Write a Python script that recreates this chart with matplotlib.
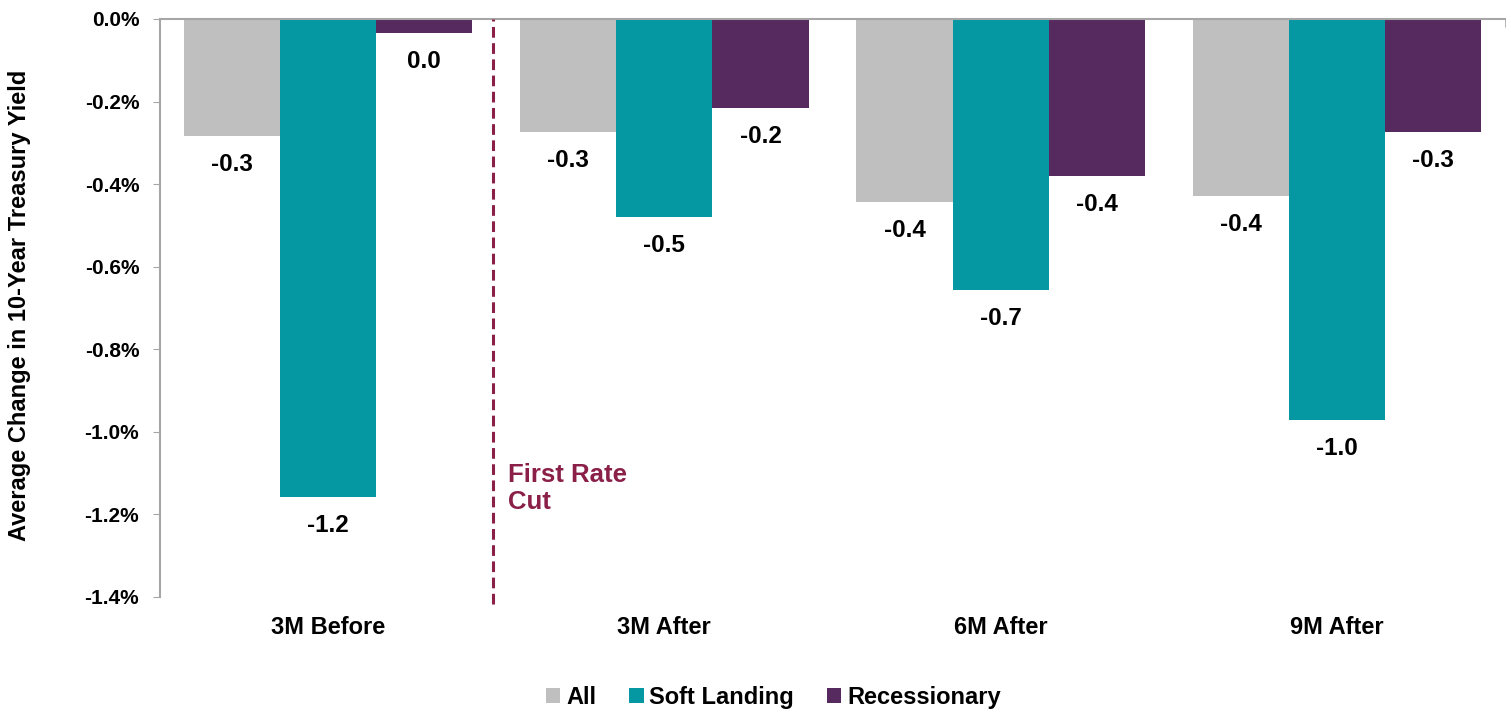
import numpy as np
import matplotlib.pyplot as plt
from matplotlib.patches import Patch

plt.rcParams['font.family'] = ['Liberation Sans', 'DejaVu Sans']
plt.rcParams['font.weight'] = 'bold'

# average change in 10-year yield (%) around the first rate cut
periods = ['3M Before', '3M After', '6M After', '9M After']
allCycles = [-0.284, -0.274, -0.443, -0.428]
softLanding = [-1.159, -0.480, -0.657, -0.972]
recessionary = [-0.034, -0.216, -0.381, -0.273]
yTicks = [-1.4, -1.2, -1.0, -0.8, -0.6, -0.4, -0.2, 0.0]
yTickLabels = ['-1.4%', '-1.2%', '-1.0%', '-0.8%', '-0.6%', '-0.4%', '-0.2%', '0.0%']

seriesNames = ['All', 'Soft Landing', 'Recessionary']
seriesColors = ['#BFBFBF', '#0598A2', '#562A5E']
cutColor = '#8A1F48'
axisGray = '#A6A6A6'

fig = plt.figure(figsize=(15.11, 7.13), dpi=100)
ax = fig.add_axes([0.1059, 0.1627, 0.8901, 0.8107])

x = np.arange(len(periods))
width = 0.286
for i, (vals, color) in enumerate(zip([allCycles, softLanding, recessionary], seriesColors)):
    pos = x + (i - 1) * width
    ax.bar(pos, vals, width, color=color, edgecolor='none', zorder=2)
    for p, v in zip(pos, vals):
        txt = f'{v:.1f}'
        if txt == '-0.0':
            txt = '0.0'
        ax.annotate(txt, (p, v), xytext=(0, -17), textcoords='offset pixels',
                    ha='center', va='top', fontsize=17.5, fontweight='bold', color='black')

# first cut marker between the "before" and "after" groups
ax.axvline(0.49, ymin=-0.012, ymax=1, color=cutColor, lw=2.2,
           dashes=(3.5, 1.8), clip_on=False, zorder=3)
ax.text(0.535, -1.075, 'First Rate\nCut', color=cutColor, fontsize=18.5,
        fontweight='bold', ha='left', va='top', linespacing=1.15)

ax.set_xlim(-0.5, 3.5)
ax.set_ylim(-1.4, 0)
ax.set_yticks(yTicks)
ax.set_yticklabels(yTickLabels)
ax.set_xticks(x)
ax.set_xticklabels(periods)
ax.tick_params(axis='x', length=0, pad=14, labelsize=17)
ax.tick_params(axis='y', direction='out', length=5, color=axisGray, pad=10, labelsize=15)
ax.set_xticks([3.5], minor=True)
ax.tick_params(axis='x', which='minor', top=True, bottom=False, direction='in', length=6, color=axisGray)

for side in ['right', 'bottom']:
    ax.spines[side].set_visible(False)
for side in ['left', 'top']:
    ax.spines[side].set_color(axisGray)
    ax.spines[side].set_linewidth(1.5)

fig.text(0.013, 0.572, 'Average Change in 10-Year Treasury Yield', rotation=90,
         ha='center', va='center', fontsize=17, fontweight='bold')

handles = [Patch(facecolor=c, edgecolor='none') for c in seriesColors]
fig.legend(handles, seriesNames, loc='center', bbox_to_anchor=(0.512, 0.022), ncol=3,
           frameon=False, fontsize=17, handlelength=0.6, handleheight=0.6,
           handletextpad=0.25, columnspacing=1.4)

fig.savefig('out.png', dpi=100)
